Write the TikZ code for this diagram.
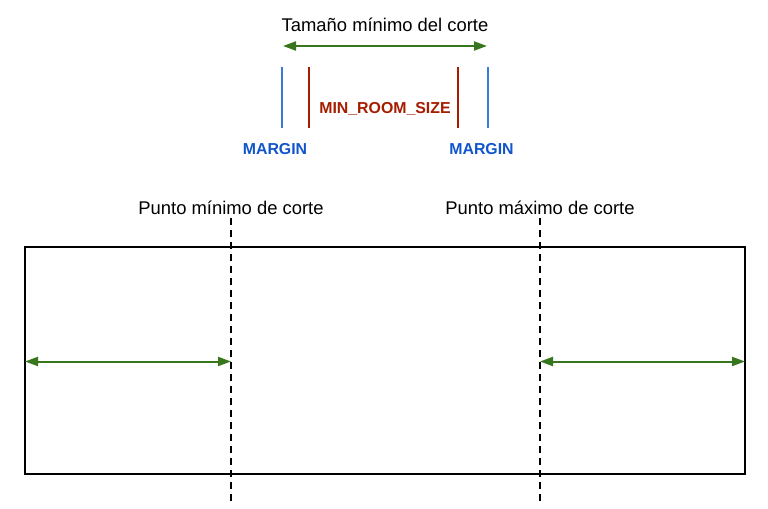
\documentclass[tikz,border=0pt]{standalone}
\usepackage{fontspec}
\setmainfont{Liberation Sans}
\usepackage{tikz}
\usetikzlibrary{arrows.meta}
\usetikzlibrary{calc}
\definecolor{cortegreen}{HTML}{38761D}
\definecolor{marginline}{HTML}{3C78D8}
\definecolor{margintext}{HTML}{1155CC}
\definecolor{roomred}{HTML}{A61C00}

\begin{document}
\begin{tikzpicture}[x=0.75pt,y=-0.75pt,
        medida/.style={cortegreen,line width=1.5pt,{Triangle[length=9.75pt,width=6.75pt]}-{Triangle[length=9.75pt,width=6.75pt]}},
        corte/.style={line width=1.5pt,dash pattern=on 5.25pt off 3.75pt},
        rotulo/.style={anchor=base,inner sep=0pt,font=\fontsize{13.8}{16}\selectfont},
        etiqueta/.style={anchor=base,inner sep=0pt,font=\fontsize{11.9}{14}\selectfont\bfseries}]
        \useasboundingbox (0,0) rectangle (768,508);
        \newcommand{\figcorterectleft}{25}
        \newcommand{\figcorterectright}{745}
        \newcommand{\figcorterecttop}{247}
        \newcommand{\figcorterectbottom}{474}
        \newcommand{\figcortemincut}{231}
        \newcommand{\figcortemaxcut}{540}
        \newcommand{\figcortecuttop}{218}
        \newcommand{\figcortecutbottom}{503}
        \newcommand{\figcortearrowy}{361.5}
        \newcommand{\figcortebartop}{67}
        \newcommand{\figcortebarbottom}{128}
        \newcommand{\figcortemarginleft}{281.5}
        \newcommand{\figcorteroomleft}{308.5}
        \newcommand{\figcorteroomright}{458}
        \newcommand{\figcortemarginright}{488}
        % minimum size at the top
        \node[rotulo] (tamano) at (385,31.7) {Tamaño mínimo del corte};
        \coordinate (tamanoa) at (283,46);
        \coordinate (tamanob) at (487,46);
        \draw[medida] (tamanoa) -- (tamanob);
        \coordinate (marginatop) at (\figcortemarginleft,\figcortebartop);
        \coordinate (marginabot) at (\figcortemarginleft,\figcortebarbottom);
        \coordinate (roomatop) at (\figcorteroomleft,\figcortebartop);
        \coordinate (roomabot) at (\figcorteroomleft,\figcortebarbottom);
        \coordinate (roombtop) at (\figcorteroomright,\figcortebartop);
        \coordinate (roombbot) at (\figcorteroomright,\figcortebarbottom);
        \coordinate (marginbtop) at (\figcortemarginright,\figcortebartop);
        \coordinate (marginbbot) at (\figcortemarginright,\figcortebarbottom);
        \draw[marginline,line width=1.5pt] (marginatop) -- (marginabot);
        \draw[roomred,line width=1.5pt] (roomatop) -- (roomabot);
        \draw[roomred,line width=1.5pt] (roombtop) -- (roombbot);
        \draw[marginline,line width=1.5pt] (marginbtop) -- (marginbbot);
        \node[etiqueta,text=roomred] (roomsize) at (385,113) {MIN\_ROOM\_SIZE};
        \node[etiqueta,text=margintext] (margina) at (275,154) {MARGIN};
        \node[etiqueta,text=margintext] (marginb) at (481.5,154) {MARGIN};
        % room and cut limits
        \draw[line width=1.5pt] (\figcorterectleft,\figcorterecttop) rectangle (\figcorterectright,\figcorterectbottom);
        \node[rotulo] (puntomin) at (\figcortemincut,214.5) {Punto mínimo de corte};
        \node[rotulo] (puntomax) at (\figcortemaxcut,214.5) {Punto máximo de corte};
        \coordinate (mintop) at (\figcortemincut,\figcortecuttop);
        \coordinate (minbot) at (\figcortemincut,\figcortecutbottom);
        \coordinate (maxtop) at (\figcortemaxcut,\figcortecuttop);
        \coordinate (maxbot) at (\figcortemaxcut,\figcortecutbottom);
        \draw[corte] (mintop) -- (minbot);
        \draw[corte] (maxtop) -- (maxbot);
        \coordinate (leftwall) at (\figcorterectleft,\figcortearrowy);
        \coordinate (mincut) at (\figcortemincut,\figcortearrowy);
        \coordinate (maxcut) at (\figcortemaxcut,\figcortearrowy);
        \coordinate (rightwall) at (\figcorterectright,\figcortearrowy);
        \draw[medida] (leftwall) -- (mincut);
        \draw[medida] (maxcut) -- (rightwall);
\end{tikzpicture}
\end{document}
